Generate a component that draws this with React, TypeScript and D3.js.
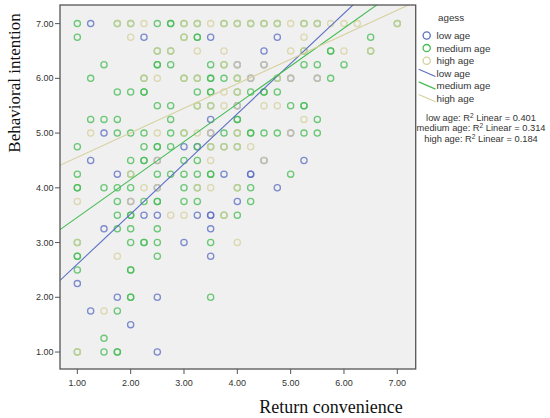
import * as d3 from "d3";

// Return convenience (x) / Behavioral intention (y), one pair per circle.
const lowAge: [number, number][] = [
  [1.25, 7], [2.25, 6.75], [3.5, 6.75], [4.75, 6.75], [4.5, 6.5], [4, 6.25], [4.5, 6.25],
  [4.25, 6], [5, 6], [5.5, 6], [4, 5.5], [3.5, 5.25], [1.5, 5], [3.5, 5], [5, 5],
  [3, 4.75], [3.25, 4.75], [1.25, 4.5], [2.5, 4.5], [4.5, 4.5], [5.25, 4.5],
  [1.75, 4.25], [3.75, 4.25], [4.25, 4.25], [4.25, 4.25], [2.5, 4], [4.75, 4],
  [2, 3.75], [4, 3.75], [2.25, 3.5], [2.5, 3.5], [3.25, 3.5], [3.5, 3.5], [3.5, 3.5],
  [1.5, 3.25], [3.5, 3.25], [3, 3], [3.5, 2.75], [1, 2.25], [1.75, 2], [2.5, 2],
  [1.25, 1.75], [2, 1.5], [2.5, 1],
];

const mediumAge: [number, number][] = [
  [1, 7], [1.75, 7], [2, 7], [2.5, 7], [2.75, 7], [2.75, 7], [3, 7], [3.25, 7], [3.75, 7],
  [4, 7], [4.25, 7], [4.5, 7], [4.75, 7], [5.25, 7], [5.5, 7], [7, 7],
  [1, 6.75], [3, 6.75], [3.25, 6.75], [3.25, 6.75], [6.5, 6.75],
  [2.5, 6.5], [2.75, 6.5], [5.25, 6.5], [5.75, 6.5], [5.75, 6.5], [6.5, 6.5],
  [1.5, 6.25], [2.5, 6.25], [2.5, 6.25], [2.75, 6.25], [3.5, 6.25], [3.75, 6.25], [5.25, 6.25], [5.5, 6.25], [6, 6.25],
  [1.25, 6], [2.25, 6], [3, 6], [3.25, 6], [3.5, 6], [3.5, 6], [3.75, 6], [4, 6], [4.75, 6], [5.75, 6],
  [1.75, 5.75], [2, 5.75], [2.25, 5.75], [2.25, 5.75], [3.25, 5.75], [3.5, 5.75], [3.5, 5.75], [4, 5.75],
  [4.25, 5.75], [4.5, 5.75], [4.5, 5.75], [4.75, 5.75],
  [2.5, 5.5], [2.75, 5.5], [3.25, 5.5], [3.5, 5.5], [5, 5.5], [5.25, 5.5], [5.25, 5.5],
  [1.25, 5.25], [1.5, 5.25], [1.75, 5.25], [2.75, 5.25], [4, 5.25], [4, 5.25], [5.5, 5.25],
  [1.75, 5], [2, 5], [2.25, 5], [2.75, 5], [3, 5], [3.75, 5], [4, 5], [4.25, 5], [4.25, 5], [4.5, 5],
  [4.75, 5], [5.25, 5], [5.5, 5],
  [1, 4.75], [2.25, 4.75], [2.5, 4.75], [2.5, 4.75], [2.75, 4.75], [3.25, 4.75], [3.5, 4.75], [3.75, 4.75], [4, 4.75],
  [2, 4.5], [2.25, 4.5], [2.25, 4.5], [3, 4.5], [3.25, 4.5],
  [1, 4.25], [2, 4.25], [2.5, 4.25], [2.75, 4.25], [3, 4.25], [3.25, 4.25], [3.5, 4.25], [3.5, 4.25], [5, 4.25],
  [1, 4], [1, 4], [1.5, 4], [1.75, 4], [2, 4], [3, 4], [3.25, 4], [4, 4], [4.25, 4],
  [1.75, 3.75], [2.25, 3.75], [2.5, 3.75], [2.5, 3.75], [3, 3.75], [3.25, 3.75], [4.25, 3.75],
  [1.75, 3.5], [2, 3.5], [2, 3.5], [3.75, 3.5], [4, 3.5],
  [1.75, 3.25], [2, 3.25], [2.5, 3.25],
  [1, 3], [2, 3], [2.25, 3], [2.25, 3], [2.5, 3], [3.5, 3],
  [1, 2.75], [1, 2.75], [2.5, 2.75], [1, 2.5], [2, 2.5], [2, 2.5],
  [2, 2], [2, 2], [3.5, 2], [1.75, 1.75], [1.5, 1.25],
  [1, 1], [1.5, 1], [1.75, 1], [1.75, 1],
];

const highAge: [number, number][] = [
  [1.75, 7], [2, 7], [2.25, 7], [3, 7], [3.25, 7], [3.5, 7], [3.75, 7], [4, 7], [4.25, 7], [4.5, 7],
  [4.75, 7], [5, 7], [5.25, 7], [5.5, 7], [5.75, 7], [6, 7], [6.25, 7], [7, 7],
  [2, 6.75], [3, 6.75], [5.25, 6.75],
  [2.5, 6.5], [2.75, 6.5], [3.25, 6.5], [3.75, 6.5], [5, 6.5], [5.25, 6.5], [6, 6.5], [6.5, 6.5],
  [3.75, 6.25], [4, 6.25], [4.5, 6.25],
  [2.25, 6], [2.5, 6], [3, 6], [3.25, 6], [4, 6], [4.25, 6], [4.75, 6], [5, 6], [5.5, 6],
  [3.75, 5.75], [4, 5.75],
  [3.25, 5.5], [3.5, 5.5], [3.75, 5.5], [4, 5.5], [4.5, 5.5], [4.75, 5.5],
  [5.25, 5.25],
  [1.25, 5], [2.5, 5], [3, 5], [3.25, 5], [3.5, 5], [4, 5], [5, 5],
  [3.5, 4.75], [3.75, 4.75], [4, 4.75], [4.25, 4.75],
  [2.5, 4.5], [3.5, 4.5], [4.5, 4.5], [2, 4.25],
  [2.25, 4], [2.5, 4], [3.25, 4], [3.5, 4], [4, 4],
  [1, 3.75], [2, 3.75], [2.75, 3.5], [3, 3.5], [3.75, 3.5],
  [1, 3], [4, 3], [1.75, 2.75], [1.5, 1.75], [1, 1],
];

const groupNames = ["low age", "medium age", "high age"];
// rectas de ajuste: [intercepto, pendiente]
const fitLines: [number, number][] = [[1.69, 0.916], [2.77, 0.691], [4.11, 0.448]];
const rSquared = [0.401, 0.314, 0.184];
const axisTicks = [1, 2, 3, 4, 5, 6, 7];

const colores = ["#5b6ec3", "#45bc54", "#d6d19e"];
const serie = [lowAge, mediumAge, highAge];

export default function App() {
  const ANCHO = 550;
  const ALTO = 418;
  const area = { left: 60, right: 415.7, top: 5, bottom: 369 };

  const x = d3.scaleLinear().domain([0.675, 7.345]).range([area.left, area.right]);
  const y = d3.scaleLinear().domain([0.69, 7.34]).range([area.bottom, area.top]);
  const fmt = d3.format(".2f");

  const sans = "'Liberation Sans', Arial, sans-serif";
  const serif = "'Liberation Serif', 'Times New Roman', serif";

  return (
    <svg
      width={ANCHO}
      height={ALTO}
      viewBox={`0 0 ${ANCHO} ${ALTO}`}
      style={{ position: "absolute", left: 0, top: 0, background: "#fff" }}
    >
      <defs>
        <clipPath id="zona">
          <rect x={area.left} y={area.top} width={area.right - area.left} height={area.bottom - area.top} />
        </clipPath>
      </defs>

      <rect
        x={area.left}
        y={area.top}
        width={area.right - area.left}
        height={area.bottom - area.top}
        fill="#f0f0f0"
      />

      {/* puntos y rectas */}
      <g clipPath="url(#zona)">
        {serie.map((pts, i) =>
          pts.map((p, j) => (
            <circle
              key={`${i}-${j}`}
              cx={x(p[0])}
              cy={y(p[1])}
              r={3.1}
              fill="none"
              stroke={colores[i]}
              strokeWidth={1.3}
              strokeOpacity={0.78}
            />
          ))
        )}
        {fitLines.map(([b0, b1], i) => {
          const d = d3
            .line<number>()
            .x((v) => x(v))
            .y((v) => y(b0 + b1 * v))(x.domain());
          return <path key={i} d={d || ""} fill="none" stroke={colores[i]} strokeWidth={1.1} />;
        })}
      </g>

      <rect
        x={area.left}
        y={area.top}
        width={area.right - area.left}
        height={area.bottom - area.top}
        fill="none"
        stroke="#555"
        strokeWidth={1.3}
      />

      {/* eje y */}
      {axisTicks.map((t) => (
        <g key={`y${t}`}>
          <line x1={area.left - 5} x2={area.left} y1={y(t)} y2={y(t)} stroke="#555" strokeWidth={1} />
          <text x={area.left - 6.5} y={y(t)} dy="0.35em" textAnchor="end" fontFamily={sans} fontSize={9} fill="#333">
            {fmt(t)}
          </text>
        </g>
      ))}

      {/* eje x */}
      {axisTicks.map((t) => (
        <g key={`x${t}`}>
          <line x1={x(t)} x2={x(t)} y1={area.bottom} y2={area.bottom + 5} stroke="#555" strokeWidth={1} />
          <text x={x(t)} y={385.5} textAnchor="middle" fontFamily={sans} fontSize={9} fill="#333">
            {fmt(t)}
          </text>
        </g>
      ))}

      <text
        transform="translate(19.5,83) rotate(-90)"
        textAnchor="middle"
        fontFamily={serif}
        fontSize={17}
        fill="#111"
      >
        Behavioral intention
      </text>
      <text x={331} y={413} textAnchor="middle" fontFamily={serif} fontSize={18} fill="#111">
        Return convenience
      </text>

      {/* leyenda */}
      <text x={438} y={20.5} fontFamily={sans} fontSize={9.8} fill="#333">
        agess
      </text>
      {groupNames.map((n, i) => (
        <g key={`c${n}`}>
          <circle cx={426.7} cy={35.5 + i * 12.6} r={3.6} fill="none" stroke={colores[i]} strokeWidth={1.3} />
          <text x={436.5} y={35.5 + i * 12.6} dy="0.35em" fontFamily={sans} fontSize={9.8} fill="#333">
            {n}
          </text>
        </g>
      ))}
      {groupNames.map((n, i) => (
        <g key={`l${n}`}>
          <line
            x1={418.7}
            x2={435.5}
            y1={69.3 + i * 12.6}
            y2={76.5 + i * 12.6}
            stroke={colores[i]}
            strokeWidth={1.2}
          />
          <text x={436.5} y={73.3 + i * 12.6} dy="0.35em" fontFamily={sans} fontSize={9.8} fill="#333">
            {n}
          </text>
        </g>
      ))}
      {groupNames.map((n, i) => (
        <text key={`r${n}`} x={481} y={120.5 + i * 10.6} textAnchor="middle" fontFamily={sans} fontSize={9.3} fill="#333">
          {`${n}: R`}
          <tspan fontSize={6.5} baselineShift="super">
            2
          </tspan>
          {` Linear = ${rSquared[i].toFixed(3)}`}
        </text>
      ))}
    </svg>
  );
}
